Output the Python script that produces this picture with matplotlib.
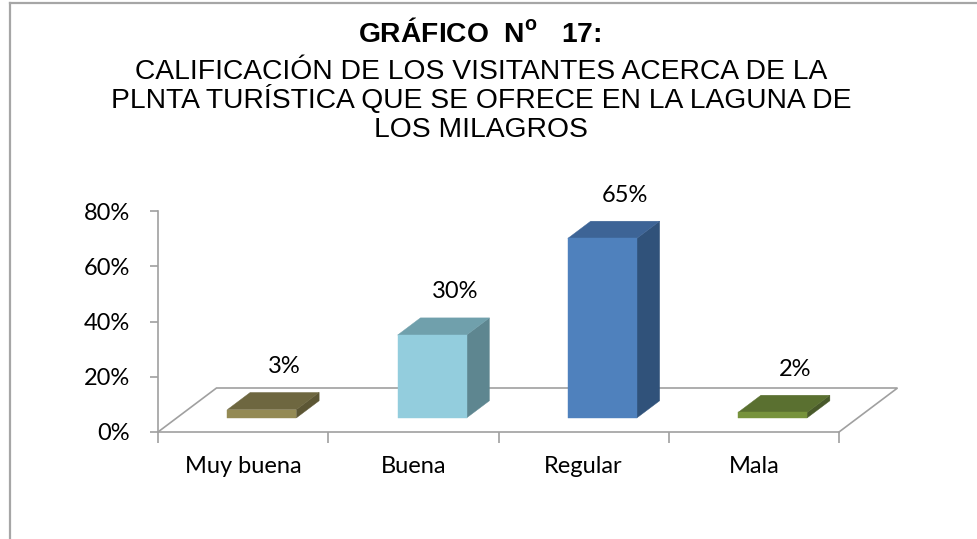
import matplotlib
matplotlib.use("Agg")
import matplotlib.pyplot as plt
from matplotlib.patches import Polygon
from matplotlib.lines import Line2D
import numpy as np

# ---- data ----
categories = ["Muy buena", "Buena", "Regular", "Mala"]
values = [0.03, 0.30, 0.65, 0.02]
value_labels = ["3%", "30%", "65%", "2%"]
y_ticks = [0.0, 0.2, 0.4, 0.6, 0.8]
y_tick_labels = ["0%", "20%", "40%", "60%", "80%"]
title_bold = r"GRÁFICO  N$^{\mathbf{o}}$   17:"
title_lines = ["CALIFICACIÓN DE LOS VISITANTES ACERCA DE LA",
               "PLNTA TURÍSTICA QUE SE OFRECE EN LA LAGUNA DE",
               "LOS MILAGROS"]

front_colors = ["#948A54", "#93CDDD", "#4F81BD", "#77933C"]
top_colors = ["#6E6740", "#70A0AC", "#3D6496", "#5A7030"]
side_colors = ["#5C5634", "#5E8690", "#30527A", "#48592A"]

W, H = 977, 539
plt.rcParams['mathtext.fontset'] = 'custom'
plt.rcParams['mathtext.bf'] = 'Liberation Sans:bold'
plt.rcParams['mathtext.rm'] = 'Liberation Sans'

fig = plt.figure(figsize=(W / 100, H / 100), dpi=100)
fig.patch.set_facecolor("white")

def fx(x):
    return x / W

def fy(y):
    return 1 - y / H

# border (top and left)
fig.add_artist(Line2D([fx(10), fx(W + 5)], [fy(3), fy(3)], color="#A6A6A6", lw=1.6))
fig.add_artist(Line2D([fx(10), fx(10)], [fy(3), fy(H + 5)], color="#A6A6A6", lw=1.6))

# titles
fig.text(fx(480), fy(42), title_bold, ha="center", va="baseline",
         fontsize=20.3, fontweight="bold", family="Liberation Sans")
for yb, t in zip([79, 108, 137], title_lines):
    fig.text(fx(481), fy(yb), t, ha="center", va="baseline",
             fontsize=20.3, family="Liberation Sans")

# axes
x0, x1 = 158, 839
y0, y1 = 432, 211
ax = fig.add_axes([fx(x0), fy(y0), (x1 - x0) / W, (y0 - y1) / H])
ax.set_xlim(-0.5, len(categories) - 0.5)
ax.set_ylim(0, 0.8)
ax.set_facecolor("none")

cat_px = (x1 - x0) / len(categories)
val_px = (y0 - y1) / 0.8
DX = 58.5 / cat_px
DY = 44.0 / val_px

grey = "#A0A0A0"
for s in ["top", "right"]:
    ax.spines[s].set_visible(False)
for s in ["left", "bottom"]:
    ax.spines[s].set_color(grey)
    ax.spines[s].set_linewidth(1.2)

# floor outline
xl, xr = -0.5, len(categories) - 0.5
ax.plot([xl, xl + DX, xr + DX, xr], [0, DY, DY, 0], color=grey, lw=1.2,
        clip_on=False, solid_joinstyle="miter")

# bars
d0, d1 = 0.32, 0.71
w = 0.2025
fs = 17
for i, v in enumerate(values):
    def P(x, y, d):
        return (x + d * DX, y + d * DY)
    front = [P(i - w, 0, d0), P(i + w, 0, d0), P(i + w, v, d0), P(i - w, v, d0)]
    top = [P(i - w, v, d0), P(i + w, v, d0), P(i + w, v, d1), P(i - w, v, d1)]
    side = [P(i + w, 0, d0), P(i + w, 0, d1), P(i + w, v, d1), P(i + w, v, d0)]
    for poly, c in [(side, side_colors[i]), (top, top_colors[i]), (front, front_colors[i])]:
        ax.add_patch(Polygon(poly, closed=True, facecolor=c, edgecolor=c, lw=0.3,
                             clip_on=False, zorder=3))
    lx, ly = P(i, v, d1)
    ax.annotate(value_labels[i], (lx, ly), xytext=(0, 26), textcoords="offset pixels",
                ha="center", va="center", fontsize=fs, family="Lato",
                annotation_clip=False)

# ticks
ax.set_yticks(y_ticks)
ax.set_yticklabels(y_tick_labels, family="Lato", fontsize=fs)
ax.tick_params(axis="y", direction="out", length=6, width=1.2, color=grey, pad=14)
ax.set_xticks(np.arange(-0.5, len(categories), 1.0))
ax.set_xticklabels([])
ax.tick_params(axis="x", which="major", direction="out", length=8, width=1.2, color=grey)
ax.set_xticks(np.arange(len(categories)), minor=True)
ax.set_xticklabels(categories, minor=True, family="Lato", fontsize=fs)
ax.tick_params(axis="x", which="minor", length=0, pad=17)

fig.savefig("out.png", dpi=100, facecolor="white")
